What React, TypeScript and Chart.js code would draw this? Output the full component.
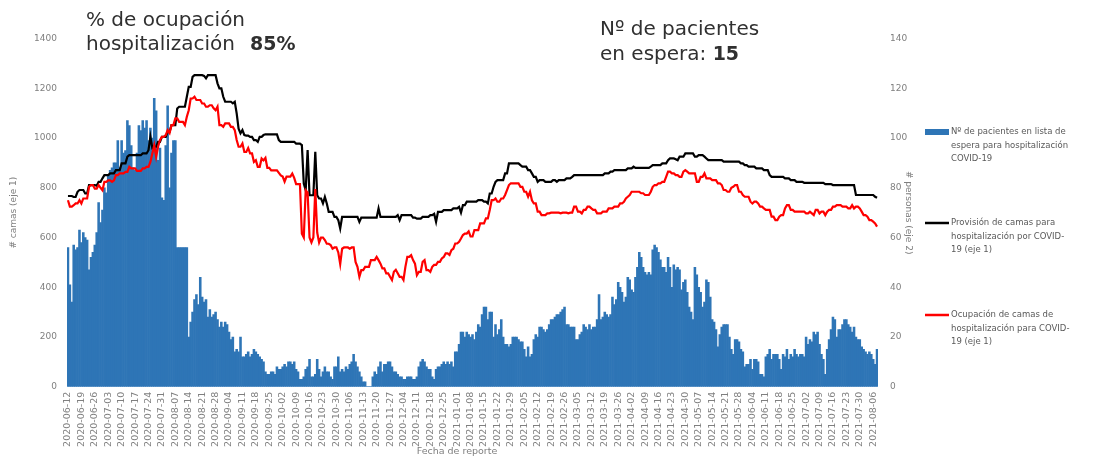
import { useEffect, useRef } from "react";
import { Chart, registerables } from "chart.js";

Chart.register(...registerables);

const START_DATE = "2020-06-12";

// Nº de pacientes en lista de espera (eje 2), one value per day
const WAITING = [
  56,41,34,57,55,56,63, 58,62,60,59,47,52,54, 57,62,74,66,71,80,78, 85,87,88,90,90,99,88,
  99,94,95,107,105,97,88, 87,94,105,103,107,104,107, 99,104,100,116,111,91,96, 76,75,97,113,80,94,99,
  99,56,56,56,56,56,56, 20,26,30,35,37,33,44, 36,34,35,28,31,28,29, 30,27,24,26,24,26,25,
  22,19,20,14,15,14,20, 12,12,13,14,12,13,15, 14,13,12,11,10,6,5, 5,6,6,5,8,7,7,
  8,9,8,10,10,9,10, 7,6,3,3,4,7,8, 11,4,4,5,11,7,4, 6,8,6,6,4,3,8,
  8,12,6,7,6,8,7, 9,10,13,10,8,6,4, 2,2,0,0,0,4,6, 5,8,10,6,9,9,10,
  10,8,6,6,5,4,4, 3,3,4,4,4,3,3, 4,8,10,11,10,8,7, 7,4,3,7,8,8,9,
  10,9,10,9,10,8,14, 14,17,22,22,20,22,21, 20,21,19,22,25,24,29, 32,32,27,30,30,20,25,
  21,23,27,20,17,17,16, 17,20,20,20,19,18,18, 15,12,16,12,13,19,21, 20,24,24,23,22,23,25,
  27,27,28,29,29,30,31, 32,25,25,24,24,24,19, 19,21,22,25,24,23,25, 23,24,24,27,37,27,28,
  30,29,28,29,36,33,35, 42,40,38,34,36,44,43, 39,38,44,48,54,52,48, 46,45,46,45,55,57,56,
  54,51,48,48,46,52,48, 40,49,47,48,47,39,42, 43,38,32,30,27,48,45, 40,38,32,34,43,42,36,
  27,26,23,16,21,24,25, 25,25,20,15,13,19,19, 18,15,14,8,9,9,11, 7,11,11,10,5,5,4,
  12,13,15,11,13,13,13, 11,7,13,12,15,11,13, 12,15,13,12,13,13,12, 20,17,19,18,22,21,22,
  17,13,11,5,15,19,23, 28,27,20,23,23,25,27, 27,25,24,22,24,20,19, 19,16,15,14,13,14,13,
  11,9,15,
];

// Provisión de camas para hospitalización por COVID-19 (eje 1)
const PROVISION = [
  767,767,767,763,763,784,791, 791,791,777,777,811,811,811, 811,808,824,824,838,851,851, 851,858,858,858,871,871,871,
  898,898,898,925,931,931,931, 931,931,931,931,938,938,938, 951,1005,960,965,965,985,985, 1005,1005,1005,1025,1025,1052,1052,
  1052,1119,1126,1126,1126,1126,1166, 1206,1206,1246,1253,1253,1253,1253, 1253,1250,1240,1253,1253,1253,1253, 1253,1220,1200,1200,1166,1146,1146,
  1146,1146,1140,1146,1099,1038,1019, 1032,1012,1010,1010,1005,1005,992, 992,985,1005,1005,1012,1015,1015, 1015,1015,1015,1015,1015,992,985,
  985,985,985,985,985,985,985, 978,978,978,972,817,790,952, 770,770,770,945,770,757,757, 737,763,737,703,703,703,683,
  683,670,636,683,683,683,683, 683,683,683,683,683,663,680, 680,680,680,680,680,680,680, 680,717,683,683,683,683,683,
  683,683,683,683,690,670,690, 690,690,690,690,690,680,680, 676,676,676,683,683,683,683, 690,690,695,663,703,703,703,
  710,710,710,710,710,717,717, 717,723,700,730,730,744,744, 744,744,744,744,750,750,750, 744,744,737,777,777,804,824,
  831,831,831,831,858,858,898, 898,898,898,898,898,891,885, 885,885,871,871,858,844,844, 824,831,831,831,824,824,824,
  824,831,831,824,831,831,831, 831,838,838,838,844,851,851, 851,851,851,851,851,851,851, 851,851,851,851,851,851,851,
  858,858,858,865,865,871,871, 871,871,871,871,871,878,878, 878,885,880,880,880,880,880, 880,880,880,885,891,891,891,
  891,891,898,898,898,911,918, 918,918,915,911,925,925,925, 938,938,938,938,938,925,925, 931,931,931,925,918,911,911,
  911,911,911,911,911,911,905, 905,905,905,905,905,905,905, 905,898,898,891,891,885,885, 885,885,878,878,878,878,871,
  871,871,851,844,844,844,844, 844,844,844,838,838,838,831, 831,831,824,824,824,824,820, 820,820,820,820,820,820,820,
  820,820,820,815,815,815,815, 811,811,811,811,811,811,811, 811,811,811,811,811,771,771, 771,771,771,771,771,771,771,
  771,764,760,
];

// Ocupación de camas de hospitalización para COVID-19 (eje 1)
const OCCUPIED = [
  750,724,724,730,737,737,750, 737,757,757,757,804,811,811, 797,797,811,800,790,824,824, 830,830,824,830,851,851,858,
  858,858,864,864,884,878,878, 878,868,868,868,878,878,884, 884,904,938,971,925,965,992, 1005,1005,1012,1032,1020,1052,1052,
  1079,1079,1065,1065,1065,1052,1086, 1112,1159,1159,1166,1153,1153,1153, 1139,1139,1126,1126,1132,1132,1120, 1112,1126,1052,1052,1045,1059,1059,
  1059,1045,1045,1032,992,965,965, 978,944,944,960,938,938,904, 911,884,884,918,910,920,880, 880,870,870,870,870,860,850,
  845,825,845,845,845,857,840, 815,815,815,615,600,790,780, 600,580,600,795,620,580,600, 600,590,575,575,570,555,560,
  560,540,493,555,560,560,560, 555,560,560,502,482,442,469, 469,482,482,482,509,509,509, 522,509,495,476,476,456,456,
  442,429,462,470,456,442,442, 429,482,522,522,529,509,495, 449,462,462,502,509,469,469, 462,482,490,490,502,502,516,
  522,536,536,530,549,555,576, 576,583,596,610,616,616,625, 604,604,630,630,630,657,657, 657,677,677,711,750,750,757,
  744,744,757,757,771,791,811, 818,818,818,818,818,804,804, 784,784,764,784,750,737,737, 704,704,690,690,690,697,697,
  700,700,700,700,700,697,700, 700,700,697,700,700,724,724, 704,704,697,711,711,724,724, 717,711,711,697,697,697,704,
  704,704,717,717,717,724,724, 724,737,737,744,757,764,771, 784,784,784,784,784,778,778, 771,771,771,784,804,811,811,
  818,818,824,824,844,865,865, 858,858,851,851,844,844,865, 871,865,858,858,858,858,824, 824,844,844,858,838,838,838,
  831,831,831,818,818,811,791, 791,784,784,800,804,811,811, 784,784,771,764,764,764,744, 737,744,744,737,724,724,717,
  711,711,711,684,684,670,670, 684,690,690,717,730,730,711, 711,704,704,704,704,704,704, 697,697,704,697,690,711,711,
  697,704,704,690,704,711,711, 724,724,730,730,730,724,724, 724,717,717,730,717,724,724, 717,704,690,690,684,670,670,
  664,657,644,
];

const SERIES_NAMES = [
  ["Nº de pacientes en lista de", "espera para hospitalización", "COVID-19"],
  ["Provisión de camas para", "hospitalización por COVID-", "19 (eje 1)"],
  ["Ocupación de camas de", "hospitalización para COVID-", "19 (eje 1)"],
];
const LEFT_AXIS_TITLE = "# camas (eje 1)";
const RIGHT_AXIS_TITLE = "# personas (eje 2)";
const X_AXIS_TITLE = "Fecha de reporte";
const OCCUPANCY_TEXT = ["% de ocupación", "hospitalización", "85%"];
const WAITING_TEXT = ["Nº de pacientes", "en espera: ", "15"];

const TICK_EVERY = 7;
const FONT = '"DejaVu Sans", sans-serif';
const BLUE = "#2e75b6";
const GRAY = "#7f7f7f";

function buildDates(n: number): string[] {
  const [y, m, d] = START_DATE.split("-").map(Number);
  const t0 = Date.UTC(y, m - 1, d);
  const out: string[] = [];
  for (let i = 0; i < n; i++) out.push(new Date(t0 + i * 86400000).toISOString().slice(0, 10));
  return out;
}

const DATES = buildDates(WAITING.length);

const annotationPlugin = {
  id: "annotations",
  afterDraw(chart: any) {
    const ctx = chart.ctx as CanvasRenderingContext2D;
    ctx.save();
    ctx.textBaseline = "alphabetic";
    ctx.textAlign = "left";
    ctx.fillStyle = "#303030";
    ctx.font = `20px ${FONT}`;
    ctx.fillText(OCCUPANCY_TEXT[0], 86, 26);
    ctx.fillText(OCCUPANCY_TEXT[1], 86, 50);
    ctx.font = `bold 19px ${FONT}`;
    ctx.fillText(OCCUPANCY_TEXT[2], 250, 50);

    ctx.font = `20px ${FONT}`;
    ctx.fillText(WAITING_TEXT[0], 600, 35);
    ctx.fillText(WAITING_TEXT[1], 600, 60);
    const w = ctx.measureText(WAITING_TEXT[1]).width;
    ctx.font = `bold 19px ${FONT}`;
    ctx.fillText(WAITING_TEXT[2], 600 + w, 60);

    // x axis title
    ctx.font = `9.5px ${FONT}`;
    ctx.fillStyle = GRAY;
    ctx.textAlign = "center";
    ctx.textBaseline = "middle";
    ctx.fillText(X_AXIS_TITLE, 457, 452);

    // legend
    const ys = [132, 223, 315];
    ctx.textAlign = "left";
    ctx.font = `8.5px ${FONT}`;
    SERIES_NAMES.forEach((lines, i) => {
      const y = ys[i];
      if (i === 0) {
        ctx.fillStyle = BLUE;
        ctx.fillRect(925, y - 3, 24, 6);
      } else {
        ctx.strokeStyle = i === 1 ? "#000000" : "#ff0000";
        ctx.lineWidth = 2.5;
        ctx.beginPath();
        ctx.moveTo(925, y);
        ctx.lineTo(949, y);
        ctx.stroke();
      }
      ctx.fillStyle = "#595959";
      lines.forEach((ln, j) => ctx.fillText(ln, 951, y + j * 13.5));
    });
    ctx.restore();
  },
};

export default function App() {
  const ref = useRef<HTMLCanvasElement | null>(null);

  useEffect(() => {
    if (!ref.current) return;
    const chart = new Chart(ref.current, {
      type: "bar",
      data: {
        labels: DATES,
        datasets: [
          {
            type: "line",
            label: SERIES_NAMES[2].join(" "),
            data: OCCUPIED,
            borderColor: "#ff0000",
            borderWidth: 2.2,
            pointRadius: 0,
            tension: 0,
            yAxisID: "y",
            order: 0,
          },
          {
            type: "line",
            label: SERIES_NAMES[1].join(" "),
            data: PROVISION,
            borderColor: "#000000",
            borderWidth: 2.2,
            pointRadius: 0,
            tension: 0,
            yAxisID: "y",
            order: 1,
          },
          {
            type: "bar",
            label: SERIES_NAMES[0].join(" "),
            data: WAITING,
            backgroundColor: BLUE,
            borderWidth: 0,
            barPercentage: 1,
            categoryPercentage: 1,
            yAxisID: "y2",
            order: 2,
          },
        ],
      },
      options: {
        responsive: false,
        animation: false,
        layout: { padding: { left: 0, right: 185, top: 38.6, bottom: 0 } },
        plugins: { legend: { display: false }, tooltip: { enabled: false } },
        scales: {
          x: {
            grid: { display: false, drawTicks: false },
            border: { display: false },
            afterFit: (s: any) => {
              s.height = 74.3;
            },
            ticks: {
              autoSkip: false,
              maxRotation: 90,
              minRotation: 90,
              padding: 5,
              color: GRAY,
              font: { family: FONT, size: 9.5 },
              callback: (_v: any, i: number) => (i % TICK_EVERY === 0 ? DATES[i] : ""),
            },
          },
          y: {
            position: "left",
            min: 0,
            max: 1400,
            grid: { display: false, drawTicks: false },
            border: { display: false },
            afterFit: (s: any) => {
              s.width = 67;
            },
            ticks: {
              stepSize: 200,
              padding: 10,
              color: GRAY,
              font: { family: FONT, size: 9 },
              callback: (v: any) => String(v),
            },
            title: {
              display: true,
              text: LEFT_AXIS_TITLE,
              color: GRAY,
              font: { family: FONT, size: 9 },
              padding: { top: 8, bottom: 0 },
            },
          },
          y2: {
            position: "right",
            min: 0,
            max: 140,
            grid: { display: false, drawTicks: false },
            border: { display: false },
            afterFit: (s: any) => {
              s.width = 36;
            },
            ticks: {
              stepSize: 20,
              padding: 12,
              color: GRAY,
              font: { family: FONT, size: 9 },
              callback: (v: any) => String(v),
            },
            title: {
              display: true,
              text: RIGHT_AXIS_TITLE,
              color: GRAY,
              font: { family: FONT, size: 9 },
              padding: { top: 0, bottom: 0 },
            },
          },
        },
      },
      plugins: [annotationPlugin],
    } as any);
    return () => chart.destroy();
  }, []);

  return (
    <div style={{ position: "absolute", left: 0, top: 0, width: 1099, height: 461, background: "#fff" }}>
      <canvas ref={ref} width={1099} height={461} style={{ display: "block" }} />
    </div>
  );
}
